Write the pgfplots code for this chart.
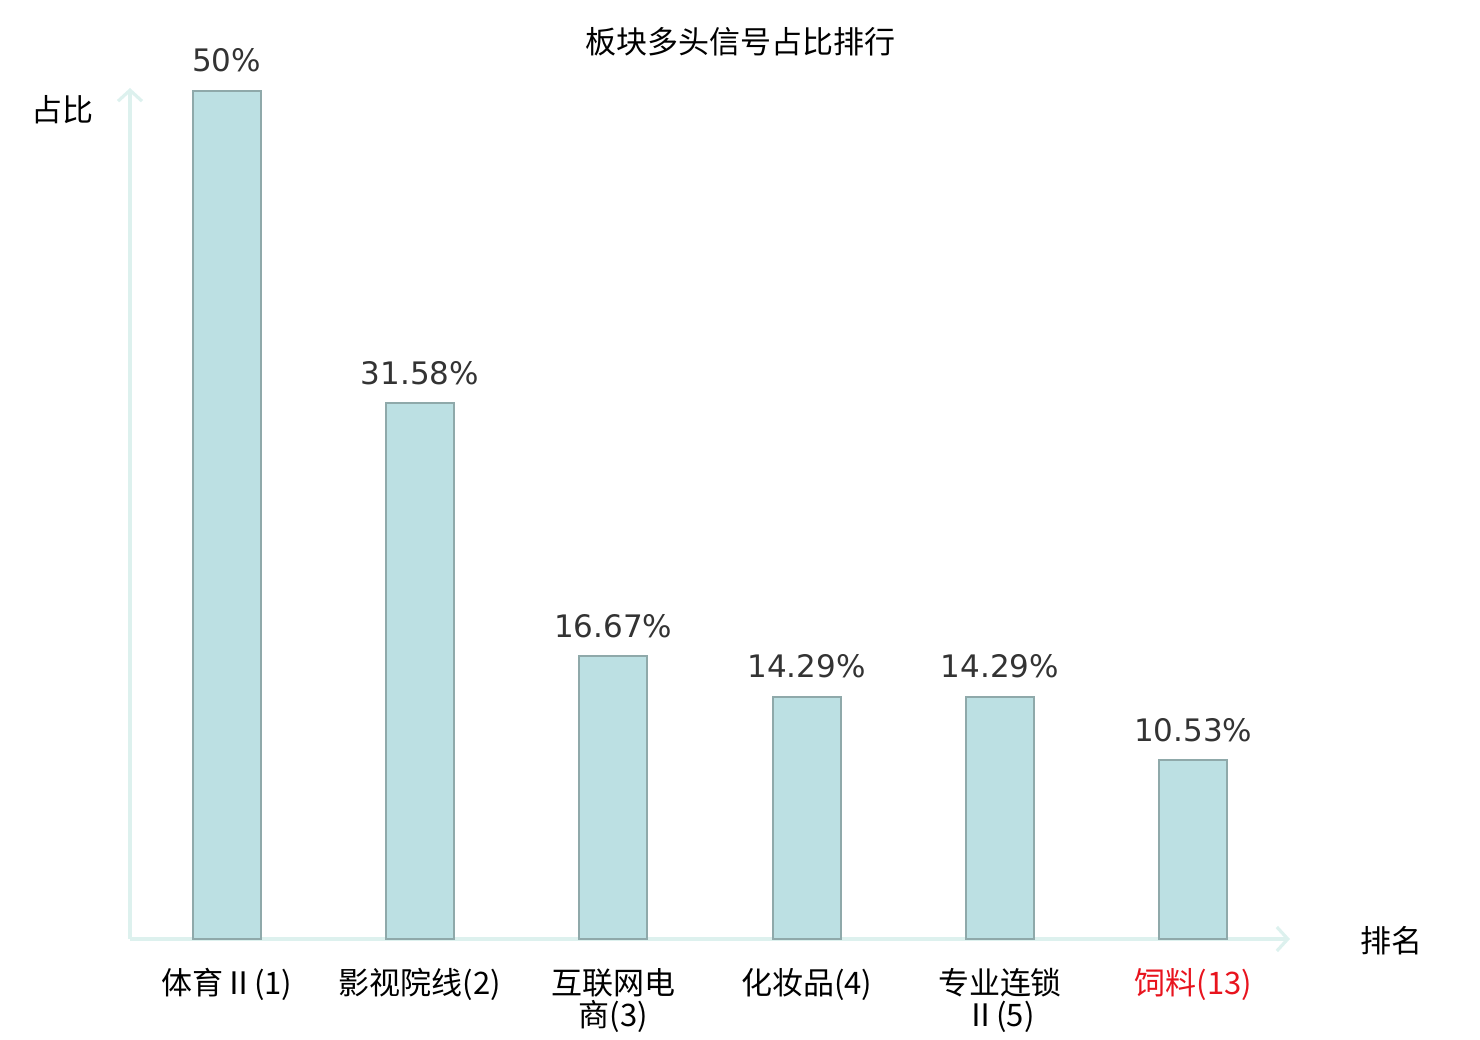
\documentclass[border=0pt]{standalone}
\usepackage{fontspec}
\setmainfont{Noto Sans CJK SC}
\newfontfamily\dejavu{DejaVu Sans}
\usepackage{pgfplots}
\pgfplotsset{compat=1.18}
\usetikzlibrary{arrows.meta}
\definecolor{barfill}{HTML}{BCE0E3}
\definecolor{baredge}{HTML}{8FA9AA}
\definecolor{axiscol}{HTML}{DDF1EE}
\definecolor{valcol}{HTML}{333333}
\definecolor{redlab}{HTML}{E8141E}
\begin{document}
\begin{tikzpicture}
\path[use as bounding box] (0,0) rectangle (740pt,520pt);
\begin{axis}[
  at={(65pt,50.5pt)}, anchor=south west,
  scale only axis, width=580pt, height=425.5pt,
  xmin=-0.5, xmax=5.5, ymin=0, ymax=50.18,
  axis lines=left,
  axis line style={draw=axiscol, line width=1.6pt, -{Straight Barb[length=5.5pt,width=12pt,line width=1.6pt]}},
  xtick=data, ytick=\empty,
  major tick length=0pt,
  xticklabels={体育Ⅱ(1), 影视院线(2), 互联网电\\商(3), 化妆品(4), 专业连锁\\Ⅱ(5), \textcolor{redlab}{饲料(13)}},
  xticklabel style={align=center, font=\fontsize{15.5}{16}\selectfont, text=black, yshift=-11pt},
  clip=false,
  ybar, bar width=34pt,
  nodes near coords,
  point meta=explicit symbolic,
  every node near coord/.append style={font=\dejavu\fontsize{15.5}{18}\selectfont, text=valcol, yshift=5.5pt},
]
\addplot[fill=barfill, draw=baredge, line width=1pt] coordinates {
 (0,50)[50\%] (1,31.58)[31.58\%] (2,16.67)[16.67\%] (3,14.29)[14.29\%] (4,14.29)[14.29\%] (5,10.53)[10.53\%]
};
\end{axis}
\node[font=\fontsize{15.5}{16}\selectfont] at (370pt,499pt) {板块多头信号占比排行};
\node[font=\fontsize{15.5}{16}\selectfont] at (31.5pt,465pt) {占比};
\node[font=\fontsize{15.5}{16}\selectfont] at (695.5pt,49.5pt) {排名};
\end{tikzpicture}
\end{document}
